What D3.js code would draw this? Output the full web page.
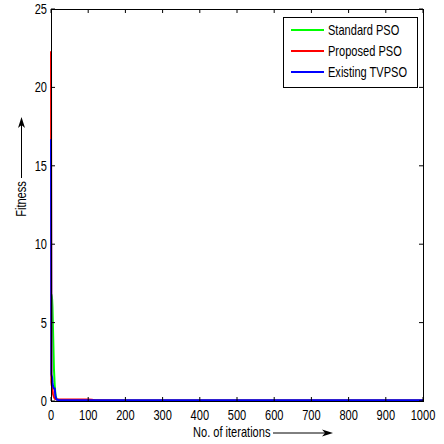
<!DOCTYPE html>
<html><head><meta charset="utf-8">
<script src="https://cdn.jsdelivr.net/npm/d3@7"></script>
<style>body{margin:0;background:#fff}svg{display:block}text{font-family:"Liberation Sans",Arial,sans-serif;fill:#000}</style>
</head><body>
<script>
const iterations = [0, 1, 2, 3, 4, 5, 6, 8, 10, 12, 15, 20, 50, 100, 110, 120, 200, 500, 1000];
const standardPSO = [6.8, 6.8, 6.7, 6.5, 6.0, 5.0, 4.0, 2.0, 1.0, 0.4, 0.1, 0.08, 0.06, 0.05, 0.05, 0.04, 0.03, 0.03, 0.03];
const proposedPSO = [22.3, 1.2, 1.0, 0.9, 0.7, 0.5, 0.4, 0.25, 0.15, 0.12, 0.1, 0.1, 0.1, 0.1, 0.08, 0.04, 0.03, 0.03, 0.03];
const existingTVPSO = [16.7, 1.7, 1.6, 1.5, 1.2, 1.0, 0.9, 0.8, 0.8, 0.3, 0.1, 0.06, 0.05, 0.05, 0.05, 0.05, 0.05, 0.05, 0.05];
const seriesNames = ["Standard PSO", "Proposed PSO", "Existing TVPSO"];
const seriesColors = ["#00ff00", "#ff0000", "#0000ff"];
const xTicks = [0,100,200,300,400,500,600,700,800,900,1000];
const yTicks = [0,5,10,15,20,25];

const W=444,H=444, L=51,R=423,T=9,B=401, SX=0.79, FS=14;
const svg=d3.select("body").append("svg").attr("width",W).attr("height",H);
const x=d3.scaleLinear().domain([0,1000]).range([L,R]);
const y=d3.scaleLinear().domain([0,25]).range([B,T]);

function txt(px,py,s,anchor,rot){
  const g=svg.append("g").attr("transform",`translate(${px},${py})`+(rot?` rotate(${rot})`:"")+` scale(${SX},1)`);
  g.append("text").attr("font-size",FS).attr("text-anchor",anchor||"start").text(s);
}

// series
const all=[standardPSO,proposedPSO,existingTVPSO];
const line=d3.line().x((d,i)=>x(iterations[i])).y(d=>y(d));
all.forEach((s,k)=>{
  svg.append("path").datum(s).attr("d",line).attr("fill","none")
    .attr("stroke",seriesColors[k]).attr("stroke-width",2).attr("stroke-linejoin","round");
});

// box
svg.append("rect").attr("x",L).attr("y",T).attr("width",R-L).attr("height",B-T)
  .attr("fill","none").attr("stroke","#000").attr("stroke-width",1).attr("shape-rendering","crispEdges");
// ticks
const tk=4;
xTicks.forEach(v=>{
  svg.append("line").attr("x1",x(v)).attr("x2",x(v)).attr("y1",B).attr("y2",B-tk).attr("stroke","#000");
  svg.append("line").attr("x1",x(v)).attr("x2",x(v)).attr("y1",T).attr("y2",T+tk).attr("stroke","#000");
  txt(x(v),420,String(v),"middle");
});
yTicks.forEach(v=>{
  svg.append("line").attr("x1",L).attr("x2",L+tk).attr("y1",y(v)).attr("y2",y(v)).attr("stroke","#000");
  svg.append("line").attr("x1",R).attr("x2",R-tk).attr("y1",y(v)).attr("y2",y(v)).attr("stroke","#000");
  txt(47,y(v)+5,String(v),"end");
});

// labels
txt(193,437,"No. of iterations","start");
svg.append("line").attr("x1",273).attr("x2",326).attr("y1",433).attr("y2",433).attr("stroke","#000");
svg.append("path").attr("d","M333,433 L322,429.5 L325,433 L322,436.5 Z").attr("fill","#000");
txt(26,199,"Fitness","middle",-90);
svg.append("line").attr("x1",21.5).attr("x2",21.5).attr("y1",178).attr("y2",124).attr("stroke","#000");
svg.append("path").attr("d","M21.5,117 L18,128 L21.5,125 L25,128 Z").attr("fill","#000");

// legend
svg.append("rect").attr("x",283).attr("y",17).attr("width",134).attr("height",70)
  .attr("fill","#fff").attr("stroke","#000").attr("shape-rendering","crispEdges");
seriesNames.forEach((n,k)=>{
  const ly=30+k*21;
  svg.append("line").attr("x1",291).attr("x2",324).attr("y1",ly).attr("y2",ly)
    .attr("stroke",seriesColors[k]).attr("stroke-width",2);
  txt(328,ly+5,n,"start");
});
</script>
</body></html>
